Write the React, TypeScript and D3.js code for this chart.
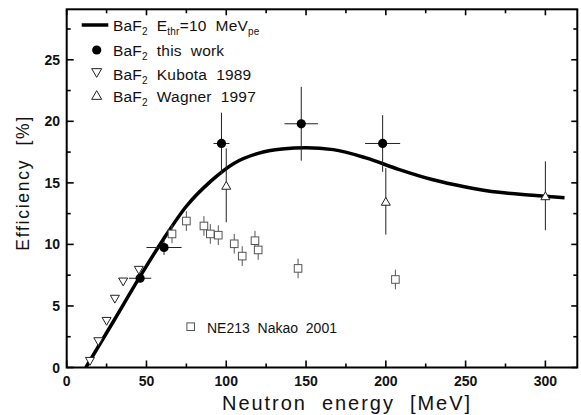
import React from "react";
import * as d3 from "d3";

const curveE = [12, 30, 46, 60, 75, 90, 105, 120, 135, 150, 167, 187.5, 208, 229, 250, 271, 292, 312];
const curveEff = [0, 3.9, 7.4, 10.3, 13.1, 15.1, 16.6, 17.4, 17.75, 17.85, 17.7, 17.03, 16.1, 15.27, 14.67, 14.23, 14.0, 13.8];

const thisE = [46, 61, 97, 147, 198];
const thisEff = [7.25, 9.75, 18.2, 19.8, 18.2];
const thisXErr = [7, 11, 5, 10.5, 11];
const thisYErr = [0.3, 0.6, 2.5, 3, 2.3];

const kubotaE = [14.6, 19.8, 25, 30.2, 35.4, 45.2];
const kubotaEff = [0.5, 2.1, 3.75, 5.55, 6.95, 7.9];

const wagnerE = [100, 200, 300];
const wagnerEff = [14.8, 13.5, 13.95];
const wagnerYErr = [3, 2.7, 2.8];

const nakaoE = [66, 75, 86, 90, 95, 105, 110, 118, 120, 145, 206];
const nakaoEff = [10.85, 11.9, 11.5, 10.85, 10.75, 10.05, 9.05, 10.3, 9.55, 8.05, 7.15];
const nakaoYErr = [0.75, 0.8, 0.8, 0.8, 0.8, 0.8, 0.8, 0.8, 0.8, 0.8, 0.8];

const xMajor = [0, 50, 100, 150, 200, 250, 300];
const xMinor = [25, 75, 125, 175, 225, 275];
const yMajor = [0, 5, 10, 15, 20, 25];
const yMinor = [2.5, 7.5, 12.5, 17.5, 22.5, 27.5];

const W = 581, H = 415;
const L = 66.7, R = 577.3, T = 9.3, B = 367.5;
const FONT = "'Liberation Sans', Arial, sans-serif";

export default function App() {
  const x = d3.scaleLinear().domain([0, 320]).range([L, R]);
  const y = d3.scaleLinear().domain([0, 29.1]).range([B, T]);
  const line = d3.line<number>().x((_, i) => x(curveE[i])).y((_, i) => y(curveEff[i])).curve(d3.curveMonotoneX);
  const tri = (cx: number, cy: number, s: number, down: boolean) => {
    const h = s * 0.87;
    return down
      ? `M${cx - s / 2},${cy - h / 2}L${cx + s / 2},${cy - h / 2}L${cx},${cy + h / 2}Z`
      : `M${cx - s / 2},${cy + h / 2}L${cx + s / 2},${cy + h / 2}L${cx},${cy - h / 2}Z`;
  };
  const legendTxt = { fontFamily: FONT, fontSize: 15.5, fill: "#111", letterSpacing: 0.2, style: { whiteSpace: "pre" as const } };
  const legendRows = [
    { y: 26, kind: "line", label: ["BaF", "2", "  E", "thr", "=10  MeV", "pe"] },
    { y: 51, kind: "circle", label: ["BaF", "2", "  this  work"] },
    { y: 75, kind: "down", label: ["BaF", "2", "  Kubota  1989"] },
    { y: 97, kind: "up", label: ["BaF", "2", "  Wagner  1997"] },
  ];
  return (
    <svg width={W} height={H} style={{ position: "absolute", left: 0, top: 0, background: "#fff" }}>
      <defs>
        <clipPath id="plot"><rect x={L} y={T} width={R - L} height={B - T} /></clipPath>
      </defs>
      <g stroke="#000" strokeWidth={1.6}>
        {xMajor.map((v) => (
          <g key={"xM" + v}>
            <line x1={x(v)} x2={x(v)} y1={B} y2={B - 7} />
            <line x1={x(v)} x2={x(v)} y1={T} y2={T + 6} />
          </g>
        ))}
        {xMinor.map((v) => (
          <g key={"xm" + v}>
            <line x1={x(v)} x2={x(v)} y1={B} y2={B - 4} />
            <line x1={x(v)} x2={x(v)} y1={T} y2={T + 4} />
          </g>
        ))}
        {yMajor.map((v) => (
          <g key={"yM" + v}>
            <line x1={L} x2={L + 7} y1={y(v)} y2={y(v)} />
            <line x1={R} x2={R - 6} y1={y(v)} y2={y(v)} />
          </g>
        ))}
        {yMinor.map((v) => (
          <g key={"ym" + v}>
            <line x1={L} x2={L + 4} y1={y(v)} y2={y(v)} />
            <line x1={R} x2={R - 4} y1={y(v)} y2={y(v)} />
          </g>
        ))}
      </g>
      <rect x={L} y={T} width={R - L} height={B - T} fill="none" stroke="#000" strokeWidth={2} />
      <g fontFamily={FONT} fontSize={14} fontWeight="bold" fill="#111">
        {xMajor.map((v) => (
          <text key={"xl" + v} x={x(v)} y={386} textAnchor="middle">{v}</text>
        ))}
        {yMajor.map((v) => (
          <text key={"yl" + v} x={60} y={y(v) + 5} textAnchor="end">{v}</text>
        ))}
      </g>
      <text x={222} y={410} fontFamily={FONT} fontSize={20} fill="#111" textLength={248} lengthAdjust="spacing" style={{ whiteSpace: "pre" }}>Neutron  energy  [MeV]</text>
      <text transform={`translate(29,250.7) rotate(-90)`} fontFamily={FONT} fontSize={17.5} fill="#111" textLength={134} lengthAdjust="spacing" style={{ whiteSpace: "pre" }}>Efficiency  [%]</text>

      <g clipPath="url(#plot)">
        <path d={line(curveE) || ""} fill="none" stroke="#000" strokeWidth={3.5} />
      </g>
      <g stroke="#222" strokeWidth={1}>
        {thisE.map((e, i) => (
          <g key={"te" + i}>
            <line x1={x(e - thisXErr[i])} x2={x(e + thisXErr[i])} y1={y(thisEff[i])} y2={y(thisEff[i])} />
            <line x1={x(e)} x2={x(e)} y1={y(thisEff[i] - thisYErr[i])} y2={y(thisEff[i] + thisYErr[i])} />
          </g>
        ))}
        {wagnerE.map((e, i) => (
          <line key={"we" + i} x1={x(e)} x2={x(e)} y1={y(wagnerEff[i] - wagnerYErr[i])} y2={y(wagnerEff[i] + wagnerYErr[i])} />
        ))}
      </g>
      <g stroke="#555" strokeWidth={1}>
        {nakaoE.map((e, i) => (
          <line key={"ne" + i} x1={x(e)} x2={x(e)} y1={y(nakaoEff[i] - nakaoYErr[i])} y2={y(nakaoEff[i] + nakaoYErr[i])} />
        ))}
      </g>
      {nakaoE.map((e, i) => (
        <rect key={"n" + i} x={x(e) - 3.8} y={y(nakaoEff[i]) - 3.8} width={7.6} height={7.6} fill="#fff" stroke="#555" strokeWidth={1} />
      ))}
      {kubotaE.map((e, i) => (
        <path key={"k" + i} d={tri(x(e), y(kubotaEff[i]), 9, true)} fill="#fff" stroke="#222" strokeWidth={1} />
      ))}
      {wagnerE.map((e, i) => (
        <path key={"w" + i} d={tri(x(e), y(wagnerEff[i]), 9, false)} fill="#fff" stroke="#222" strokeWidth={1} />
      ))}
      {thisE.map((e, i) => (
        <circle key={"c" + i} cx={x(e)} cy={y(thisEff[i])} r={4.6} fill="#000" />
      ))}

      {legendRows.map((r, i) => (
        <g key={"lg" + i}>
          {r.kind === "line" && <line x1={81.7} x2={108.3} y1={r.y - 1} y2={r.y - 1} stroke="#000" strokeWidth={3.5} />}
          {r.kind === "circle" && <circle cx={96.7} cy={r.y - 1} r={4.6} fill="#000" />}
          {r.kind === "down" && <path d={tri(96.7, r.y - 2, 10, true)} fill="#fff" stroke="#222" strokeWidth={1} />}
          {r.kind === "up" && <path d={tri(96.7, r.y - 2, 10, false)} fill="#fff" stroke="#222" strokeWidth={1} />}
          <text x={113} y={r.y + 5} {...legendTxt}>
            {r.label.map((s, j) =>
              j % 2 === 1 ? (
                <tspan key={j} dy={4} fontSize={10}>{s}</tspan>
              ) : (
                <tspan key={j} dy={j === 0 ? 0 : -4}>{s}</tspan>
              )
            )}
          </text>
        </g>
      ))}
      <rect x={186.9} y={322.9} width={7.6} height={7.6} fill="#fff" stroke="#555" strokeWidth={1} />
      <text x={207} y={333} fontFamily={FONT} fontSize={14} fill="#111" textLength={130} lengthAdjust="spacing" style={{ whiteSpace: "pre" }}>NE213  Nakao  2001</text>
    </svg>
  );
}
